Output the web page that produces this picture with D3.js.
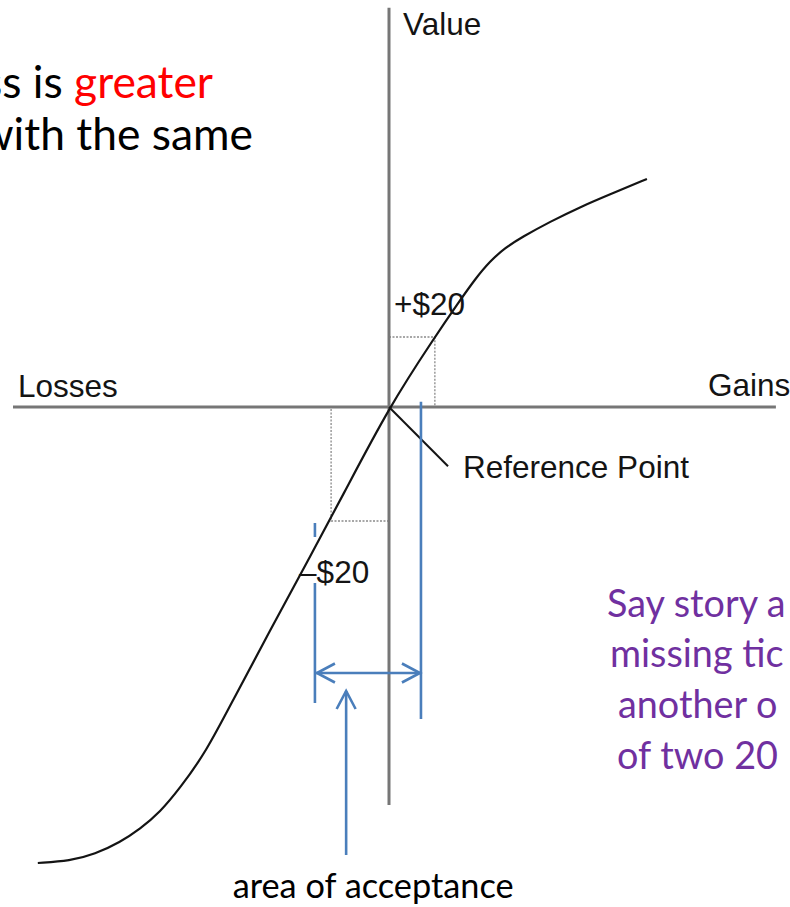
<!DOCTYPE html>
<html>
<head>
<meta charset="utf-8">
<script src="https://cdn.jsdelivr.net/npm/d3@7"></script>
<style>
  html, body { margin: 0; padding: 0; background: #fff; }
  svg { display: block; }
  text { white-space: pre; }
</style>
</head>
<body>
<svg id="chart_value" width="790" height="907"></svg>
<script>
// value function (x = outcome, y = felt value, arbitrary units)
const curveX = [-93.4, -84.8, -78.2, -71.5, -66.2, -60.9, -55.6, -48.7, -41.5, -31.6, -21.8, -12.5, 0,
  12.2, 18.4, 22.9, 26.9, 30.9, 35.4, 42.8, 50.8, 59.6, 68.6];
const curveY = [-114, -113.5, -111.8, -108.8, -105.5, -101.3, -95.3, -86.3, -73.3, -55.8, -38.8, -22.5, 0,
  17.5, 26, 32, 36.5, 39.8, 42.5, 46.3, 50, 53.5, 57];

const xExtent = [-100, 102.9];
const yExtent = [-99.5, 99.8];

const axisLabels = ["Losses", "Gains", "Value"];
const stakeLabels = ["+$20", "–$20"];
const stakeX = [12.2, -15.4];
const stakeY = [17.5, -28.5];

const refPoint = [15.7, -14.8]; // end of the "Reference Point" leader
const acceptX = [-19.7, 8.5];   // area of acceptance, left / right edge
const noteLines = ["Say story a", "missing tic", "another o", "of two 20"];

const svg = d3.select("svg#chart_value");

const x = d3.scaleLinear().domain([-100, 100]).range([13, 765]);
const y = d3.scaleLinear().domain([-100, 100]).range([807, 7]);

const grey = "#767676", blue = "#4a7ebb", ink = "#141414", purple = "#7030a0";
const helv = "'Liberation Sans', Arial, sans-serif";
const calibri = "Lato, 'Open Sans', sans-serif";

// dotted $20 boxes
let g_box = svg.append("g")
  .attr("fill", "none")
  .attr("stroke", "#8a8a8a")
  .attr("stroke-width", 1.3)
  .attr("stroke-dasharray", "2,1.5");
stakeX.forEach((sx, i) => {
  let sy = stakeY[i];
  g_box.append("path")
    .attr("d", d3.line()([[x(0), y(sy)], [x(sx), y(sy)], [x(sx), y(0)]]));
});

// axes
let g_axes = svg.append("g").attr("stroke", grey).attr("stroke-width", 3);
g_axes.append("line")
  .attr("x1", x(xExtent[0])).attr("x2", x(xExtent[1]))
  .attr("y1", y(0)).attr("y2", y(0));
g_axes.append("line")
  .attr("x1", x(0)).attr("x2", x(0))
  .attr("y1", y(yExtent[0])).attr("y2", y(yExtent[1]));

// the curve
let pts = curveX.map((d, i) => [d, curveY[i]]);
let line = d3.line()
  .x((d) => x(d[0]))
  .y((d) => y(d[1]))
  .curve(d3.curveBasis);
svg.append("path")
  .datum(pts)
  .attr("d", line)
  .attr("fill", "none")
  .attr("stroke", ink)
  .attr("stroke-width", 2.2);

// reference point leader
svg.append("line")
  .attr("x1", x(0)).attr("y1", y(0))
  .attr("x2", x(refPoint[0])).attr("y2", y(refPoint[1]))
  .attr("stroke", ink)
  .attr("stroke-width", 2);

// blue annotation: area of acceptance
let g_blue = svg.append("g")
  .attr("stroke", blue)
  .attr("stroke-width", 2.6)
  .attr("fill", "none");
let bl = (x1, y1, x2, y2) => g_blue.append("line")
  .attr("x1", x(x1)).attr("y1", y(y1)).attr("x2", x(x2)).attr("y2", y(y2));

bl(acceptX[1], 1.3, acceptX[1], -78);
bl(acceptX[0], -29, acceptX[0], -32.5);
bl(acceptX[0], -44, acceptX[0], -74);

let arrowY = -66.5;
bl(acceptX[0], arrowY, acceptX[1], arrowY);
let chevron = (tx, ty, dx, dy) => {
  // tip at (tx,ty) in px, pointing along (dx,dy)
  let a = 18, b = 9.5;
  let px = -dy, py = dx;
  g_blue.append("path")
    .attr("d", d3.line()([
      [tx - dx * a + px * b, ty - dy * a + py * b],
      [tx, ty],
      [tx - dx * a - px * b, ty - dy * a - py * b]
    ]));
};
chevron(x(acceptX[0]) + 2, y(arrowY), -1, 0);
chevron(x(acceptX[1]) - 1, y(arrowY), 1, 0);

let upX = -11.4;
bl(upX, -112, upX, -71);
chevron(x(upX), y(-71), 0, -1);

// diagram labels
let lab = (t, px, py) => svg.append("text")
  .attr("x", px).attr("y", py)
  .attr("font-family", helv)
  .attr("font-size", 31.5)
  .attr("fill", ink)
  .text(t);

lab(axisLabels[0], x(xExtent[0]) + 5, y(0) - 10);
lab(axisLabels[1], x(xExtent[1]) - 68, y(0) - 11);
lab(axisLabels[2], x(0) + 14, y(yExtent[1]) + 27);
lab(stakeLabels[0], x(0) + 5, y(stakeY[0]) - 22);
lab(stakeLabels[1], x(stakeX[1]) - 32, y(stakeY[1]) + 62);
lab("Reference Point", x(refPoint[0]) + 15, y(refPoint[1]) + 12);

// slide text (cut off by the frame)
let t1 = svg.append("text")
  .attr("x", 213).attr("y", 98)
  .attr("text-anchor", "end")
  .attr("font-family", calibri)
  .attr("font-size", 40)
  .attr("fill", "#000");
t1.append("tspan").text("ss is ");
let red = t1.append("tspan").attr("fill", "#ff0000").text("greater");
let fsTop = 40 * 139 / red.node().getComputedTextLength();
t1.attr("font-size", fsTop);

svg.append("text")
  .attr("x", 253).attr("y", 150)
  .attr("text-anchor", "end")
  .attr("font-family", calibri)
  .attr("font-size", fsTop)
  .attr("fill", "#000")
  .text("with the same");

let noteX = [607, 610, 618, 617];
let noteY = [617, 667, 718, 769];
let notes = svg.append("g")
  .attr("font-family", calibri)
  .attr("font-size", 40)
  .attr("fill", purple);
let nt = notes.selectAll("text")
  .data(noteLines)
  .join("text")
  .attr("x", (d, i) => noteX[i])
  .attr("y", (d, i) => noteY[i])
  .text((d) => d);
let fsNote = 40 * 161 / nt.nodes()[3].getComputedTextLength();
notes.attr("font-size", fsNote);

let acc = svg.append("text")
  .attr("x", x(upX) + 27).attr("y", 898)
  .attr("text-anchor", "middle")
  .attr("font-family", calibri)
  .attr("font-size", 36)
  .attr("fill", "#000")
  .text("area of acceptance");
acc.attr("font-size", 36 * 281 / acc.node().getComputedTextLength());
</script>
</body>
</html>
